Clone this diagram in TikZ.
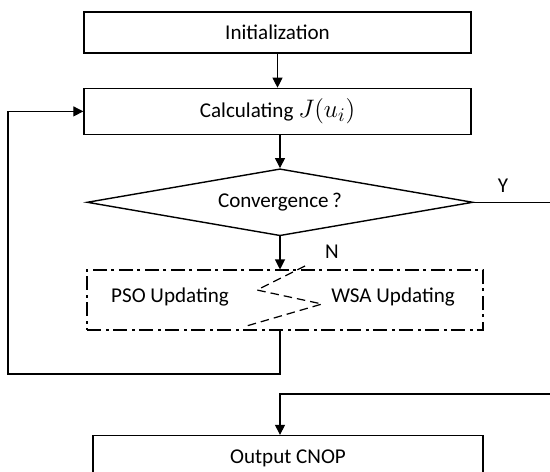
\documentclass[tikz,border=0pt]{standalone}
\usepackage{fontspec}
\setmainfont{Carlito}
\usetikzlibrary{positioning,shapes.geometric,arrows.meta}
\def\linecolor{black}
\def\boxwidth{7.74cm}
\tikzset{
  stepbox/.style={draw=\linecolor, line width=0.8pt, minimum width=\boxwidth,
    inner sep=0pt, font=\fontsize{12}{14}\selectfont},
  decision/.style={stepbox, diamond, aspect=5.8, minimum width=7.72cm, minimum height=1.34cm},
  updbox/.style={draw=\linecolor, line width=0.8pt, inner sep=0pt,
    dash pattern=on 0.28cm off 0.1cm on 0.06cm off 0.08cm},
  zig/.style={line width=0.7pt, dash pattern=on 0.17cm off 0.1cm},
  flow/.style={line width=0.6pt, -{Triangle[length=0.2cm,width=0.2cm]}},
  tag/.style={font=\fontsize{12}{14}\selectfont, inner sep=0pt}
}
\begin{document}
\begin{tikzpicture}[x=0.02cm, y=-0.02cm]
  \clip (0,0) rectangle (550,471);

  % main column of steps
  \node[stepbox, minimum height=0.82cm] (init) at (277.5,32.5) {Initialization};
  \node[stepbox, minimum height=0.92cm, below=0.68cm of init] (calc)
    {Calculating\ {\fontsize{15}{16}\selectfont$J(u_i)$}};
  \node[decision, below=0.66cm of calc, xshift=0.05cm] (conv) {Convergence\,?};
  \node[updbox, minimum width=7.92cm, minimum height=1.2cm,
    below=0.66cm of conv, xshift=0.1cm] (upd) {};
  \node[stepbox, minimum width=7.8cm, minimum height=0.92cm,
    below=2.08cm of upd, xshift=0.06cm] (out) {Output CNOP};

  % the two update schemes inside the dash-dotted box
  \node[tag] (pso) at (170,297) {PSO Updating};
  \node[tag] (wsa) at (393,297) {WSA Updating};
  \draw[zig] (305,266) -- (257,290) -- (322,304) -- (243,327);

  % branch labels
  \node[tag] (ylab) at (503,186) {Y};
  \node[tag] (nlab) at (332,252) {N};

  % corners of the return paths
  \coordinate (back) at (8,374);
  \coordinate (yes) at (552,394);

  \draw[flow] (init) -- (calc);
  \draw[flow] (calc.south -| conv.north) -- (conv);
  \draw[flow] (conv.south) -- (upd.north -| conv.south);
  \draw[flow] (upd.south -| conv.south) |- (back) |- (calc.west);
  \draw[flow] (conv.east) -| (yes) -| (out.north -| conv.south);
\end{tikzpicture}
\end{document}
